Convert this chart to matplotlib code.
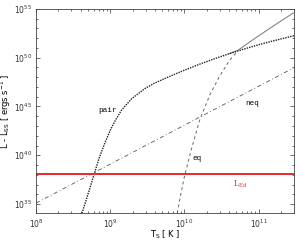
import matplotlib
matplotlib.use('agg')
import matplotlib.pyplot as plt
import numpy as np

# Donnees (log10 de T et de L)
pair_logT = [8.62, 8.70, 8.78, 8.85, 8.93, 9.00, 9.06, 9.15, 9.29, 9.47, 9.60,
             9.80, 10.00, 10.20, 10.40, 10.60, 10.80, 11.00, 11.20, 11.48]
pair_logL = [34.05, 36.0, 37.97, 39.7, 41.3, 42.55, 43.45, 44.6, 45.8, 46.85, 47.4,
             48.08, 48.72, 49.32, 49.88, 50.4, 50.88, 51.33, 51.73, 52.26]

eq_logT = [9.904, 9.952, 10.005, 10.106, 10.207, 10.342, 10.476, 10.611, 10.719]
eq_logL = [34.08, 36.03, 37.97, 40.95, 43.62, 46.18, 48.13, 49.77, 50.69]

tot_logT = [10.60, 10.72, 10.95, 11.22, 11.47]
tot_logL = [50.40, 50.75, 51.98, 53.36, 54.59]

neq_logT = [8.0, 11.47]
neq_logL = [35.1, 48.95]

L_Ed = 1.1e38

fig = plt.figure(figsize=(3.0, 2.41), dpi=100, facecolor='white')
ax = fig.add_axes([0.12, 0.116, 0.86, 0.847])

ax.plot(10**np.array(neq_logT), 10**np.array(neq_logL), color='#555555',
        lw=0.6, linestyle=(0, (5, 3, 1, 3)))
ax.plot(10**np.array(eq_logT), 10**np.array(eq_logL), color='#666666',
        lw=0.7, linestyle=(0, (3, 3)))
ax.plot(10**np.array(tot_logT), 10**np.array(tot_logL), color='#777777', lw=0.7)
ax.plot(10**np.array(pair_logT), 10**np.array(pair_logL), color='#222222',
        lw=1.0, linestyle=(0, (1, 0.8)))
ax.axhline(L_Ed, color='#e8282b', lw=1.4)

ax.set_xscale('log')
ax.set_yscale('log')
ax.set_xlim(1e8, 3e11)
ax.set_ylim(1.2e34, 1e55)

ax.set_yticks([1e35, 1e40, 1e45, 1e50, 1e55])
ax.set_yticks([10.0**k for k in range(35, 55)], minor=True)
ax.set_yticklabels([], minor=True)
ax.set_xticks([1e8, 1e9, 1e10, 1e11])

ax.tick_params(which='both', direction='in', top=True, right=True,
               labelsize=5.5, colors='#333333', pad=3)
ax.tick_params(which='major', length=3, width=0.5)
ax.tick_params(which='minor', length=1.5, width=0.5)
for s in ax.spines.values():
    s.set_linewidth(0.6)
    s.set_color('#444444')

ax.set_xlabel('T$_\\mathregular{S}$ [ K ]', fontsize=6)
ax.set_ylabel('L - L$_\\mathregular{SS}$ [ ergs s$^\\mathregular{-1}$ ]', fontsize=6)
ax.xaxis.set_label_coords(0.5, -0.078)
ax.yaxis.set_label_coords(-0.088, 0.5)

mono = 'Liberation Mono'
ax.text(10**8.97, 10**44.64, 'pair', fontsize=5.5, family=mono, ha='center', va='center')
ax.text(10**10.92, 10**45.26, 'neq', fontsize=5.5, family=mono, ha='center', va='center')
ax.text(10**10.17, 10**39.72, 'eq', fontsize=5.5, family=mono, ha='center', va='center')
ax.text(10**10.75, 10**37.05, 'L$_{\\mathregular{Ed}}$', fontsize=6.5, family='Liberation Serif',
        color='#e8282b', ha='center', va='center')

fig.savefig('out.png', dpi=100)
plt.close()
